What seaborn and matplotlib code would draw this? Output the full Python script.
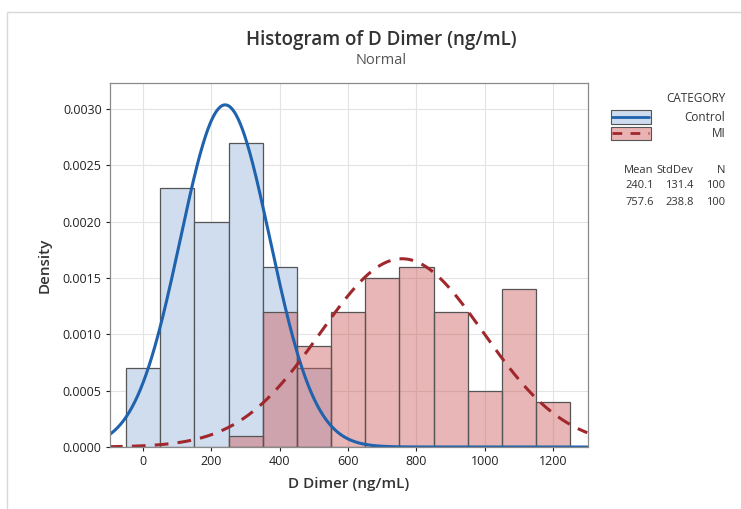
import seaborn as sns
import matplotlib.pyplot as plt
import pandas as pd
import numpy as np
from matplotlib.patches import Rectangle
from matplotlib.lines import Line2D

# Bin midpoints (width 100) and densities
bin_centers = [0, 100, 200, 300, 400, 500, 600, 700, 800, 900, 1000, 1100, 1200]
control_density = [0.0007, 0.0023, 0.0020, 0.0027, 0.0016, 0.0007, 0, 0, 0, 0, 0, 0, 0]
mi_density = [0, 0, 0, 0.0001, 0.0012, 0.0009, 0.0012, 0.0015, 0.0016, 0.0012, 0.0005, 0.0014, 0.0004]

categories = ["Control", "MI"]
means = [240.1, 757.6]
stdevs = [131.4, 238.8]
counts = [100, 100]

x_ticks = [0, 200, 400, 600, 800, 1000, 1200]
y_ticks = [0.0000, 0.0005, 0.0010, 0.0015, 0.0020, 0.0025, 0.0030]

df = pd.DataFrame({
    "center": bin_centers * 2,
    "density": control_density + mi_density,
    "category": ["Control"] * len(bin_centers) + ["MI"] * len(bin_centers),
})

sns.set_theme(style="whitegrid")
plt.rcParams["font.family"] = ["Open Sans", "DejaVu Sans"]

fig = plt.figure(figsize=(7.41, 5.09), dpi=100)
ax = fig.add_axes([0.1484, 0.1218, 0.6451, 0.7151])

fill_colors = {"Control": "#cddcef", "MI": "#ce5d5d"}
alphas = {"Control": 0.95, "MI": 0.45}
for cat in categories:
    sub = df[df["category"] == cat]
    sns.histplot(x=sub["center"], weights=sub["density"],
                 binwidth=100, binrange=(-50, 1250), stat="count",
                 color=fill_colors[cat], alpha=alphas[cat],
                 edgecolor="#555555", linewidth=0.9, ax=ax)

# hide empty bins
for p in ax.patches:
    if p.get_height() == 0:
        p.set_visible(False)

# fitted normal curves from the reported mean / stdev
xs = np.linspace(-100, 1300, 500)
line_colors = ["#1f62ae", "#a0282d"]
styles = ["-", "--"]
for mu, sd, col, ls in zip(means, stdevs, line_colors, styles):
    pdf = np.exp(-0.5 * ((xs - mu) / sd) ** 2) / (sd * np.sqrt(2 * np.pi))
    sns.lineplot(x=xs, y=pdf, color=col, lw=2.2, ax=ax)
ax.lines[-1].set_dashes((4.5, 3))

ax.set_xlim(-97, 1302)
ax.set_ylim(0, 0.00323)
ax.set_xticks(x_ticks)
ax.set_yticks(y_ticks)
ax.set_yticklabels([f"{v:.4f}" for v in y_ticks])
ax.tick_params(labelsize=9, colors="#222222", length=3, width=0.8, direction="out",
               bottom=True, left=True, pad=3)
ax.grid(True, color="#e3e3e3", lw=0.8)
ax.set_axisbelow(True)
for s in ax.spines.values():
    s.set_color("#8a8a8a")
    s.set_linewidth(0.9)

ax.set_xlabel("D Dimer (ng/mL)", fontsize=11, color="#333333", fontweight="semibold", labelpad=6)
ax.set_ylabel("Density", fontsize=11, color="#333333", fontweight="semibold", labelpad=8)

fig.text(0.514, 0.922, "Histogram of D Dimer (ng/mL)", ha="center", va="center",
         fontsize=13.5, color="#333333", fontweight="semibold")
fig.text(0.514, 0.881, "Normal", ha="center", va="center", fontsize=10.5, color="#555555")

# legend built by hand, Minitab style
fig.text(0.979, 0.806, "CATEGORY", ha="right", va="center", fontsize=8.5, color="#333333")
leg_y = [0.770, 0.738]
for cat, y, col, fc, ls in zip(categories, leg_y, line_colors,
                               ["#cddcef", "#eab3b3"], styles):
    fig.patches.append(Rectangle((0.824, y - 0.013), 0.054, 0.026, transform=fig.transFigure,
                                 facecolor=fc, edgecolor="#555555", lw=0.8))
    ln = Line2D([0.826, 0.876], [y, y], transform=fig.transFigure, color=col, lw=2, ls=ls)
    if ls == "--":
        ln.set_dashes((3.5, 3))
    fig.lines.append(ln)
    fig.text(0.979, y, cat, ha="right", va="center", fontsize=8.5, color="#333333")

col_x = [0.882, 0.936, 0.979]
for x, h in zip(col_x, ["Mean", "StdDev", "N"]):
    fig.text(x, 0.666, h, ha="right", va="center", fontsize=8, color="#333333")
for i, y in enumerate([0.635, 0.603]):
    vals = [f"{means[i]:.1f}", f"{stdevs[i]:.1f}", f"{counts[i]}"]
    for x, v in zip(col_x, vals):
        fig.text(x, y, v, ha="right", va="center", fontsize=8, color="#333333")

# faint screenshot border
fig.patches.append(Rectangle((0.010, -0.01), 1.1, 0.986, transform=fig.transFigure,
                             facecolor="none", edgecolor="#d8d8d8", lw=1))

fig.savefig("out.png", dpi=100)
plt.close(fig)
